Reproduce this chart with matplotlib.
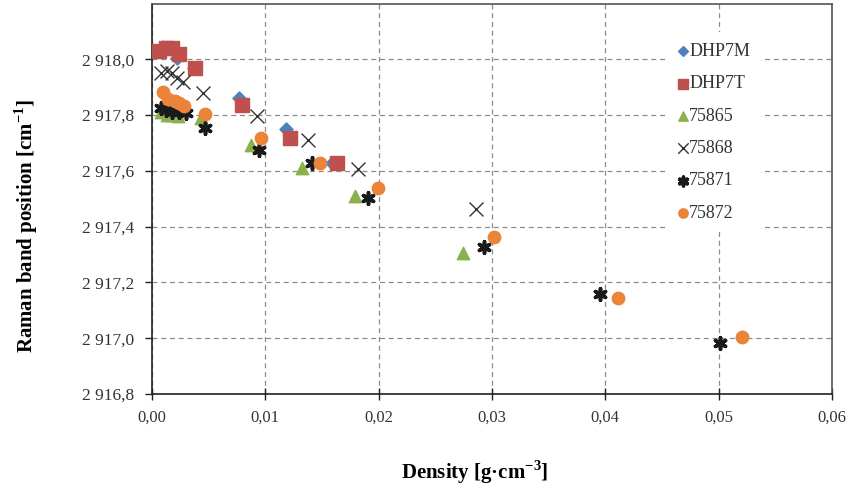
import matplotlib.pyplot as plt
from matplotlib.ticker import FuncFormatter, FixedLocator, MultipleLocator

plt.rcParams['font.family'] = ['Liberation Serif', 'DejaVu Serif']
plt.rcParams['mathtext.fontset'] = 'custom'
plt.rcParams['mathtext.rm'] = 'Liberation Serif'
plt.rcParams['mathtext.bf'] = 'Liberation Serif:bold'

# series: density [g/cm3] and Raman band position [cm-1]
dhp7m_x = [0.0010, 0.0022, 0.0037, 0.0077, 0.0118, 0.0159]
dhp7m_y = [2918.045, 2918.005, 2917.97, 2917.862, 2917.749, 2917.630]

dhp7t_x = [0.0006, 0.0012, 0.0018, 0.0024, 0.0038, 0.0079, 0.0122, 0.0163]
dhp7t_y = [2918.03, 2918.04, 2918.04, 2918.02, 2917.968, 2917.836, 2917.717, 2917.627]

s75865_x = [0.0008, 0.0013, 0.0018, 0.0023, 0.0043, 0.0087, 0.0132, 0.0179, 0.0274]
s75865_y = [2917.81, 2917.80, 2917.80, 2917.795, 2917.79, 2917.693, 2917.609, 2917.510, 2917.307]

s75868_x = [0.0008, 0.0013, 0.0018, 0.0022, 0.0027, 0.0045, 0.0093, 0.0138, 0.0182, 0.0286]
s75868_y = [2917.95, 2917.958, 2917.95, 2917.932, 2917.918, 2917.878, 2917.798, 2917.710, 2917.605, 2917.462]

s75871_x = [0.0008, 0.0012, 0.0018, 0.0024, 0.0030, 0.0047, 0.0094, 0.0141, 0.0191, 0.0293, 0.0395, 0.0501]
s75871_y = [2917.824, 2917.818, 2917.812, 2917.812, 2917.806, 2917.753, 2917.675, 2917.627, 2917.504, 2917.326, 2917.158, 2916.984]

s75872_x = [0.0010, 0.0014, 0.0020, 0.0024, 0.0028, 0.0047, 0.0096, 0.0148, 0.0199, 0.0302, 0.0411, 0.0521]
s75872_y = [2917.884, 2917.857, 2917.852, 2917.842, 2917.833, 2917.804, 2917.717, 2917.627, 2917.537, 2917.364, 2917.145, 2917.003]

y_ticks = [2916.8, 2917.0, 2917.2, 2917.4, 2917.6, 2917.8, 2918.0]

fig = plt.figure(figsize=(8.53, 4.88), dpi=100)
ax = fig.add_axes([0.1782, 0.1926, 0.7972, 0.8002])

ax.scatter(dhp7m_x, dhp7m_y, marker='D', s=45, color='#4F81BD', label='DHP7M', zorder=3)
ax.scatter(dhp7t_x, dhp7t_y, marker='s', s=95, color='#C0504D', label='DHP7T', zorder=3)
ax.scatter(s75865_x, s75865_y, marker='^', s=80, color='#8DB04E', label='75865', zorder=3)
ax.scatter(s75868_x, s75868_y, marker='x', s=100, color='#333333', linewidths=1.0,
           label='75868', zorder=3)
ax.scatter(s75871_x, s75871_y, marker=(6, 2, 0), s=70, color='#1a1a1a', linewidths=2.6,
           label='75871', zorder=3)
ax.scatter(s75872_x, s75872_y, marker='o', s=80, color='#EB8338', label='75872', zorder=3)

ax.set_xlim(0, 0.06)
ax.set_ylim(2916.8, 2918.2)
ax.xaxis.set_major_locator(MultipleLocator(0.01))
ax.yaxis.set_major_locator(FixedLocator(y_ticks))


def fmt_y(v, pos):
    return f'{v:,.1f}'.replace(',', ' ').replace('.', ',')


ax.yaxis.set_major_formatter(FuncFormatter(fmt_y))
ax.xaxis.set_major_formatter(FuncFormatter(lambda v, p: f'{v:.2f}'.replace('.', ',')))

ax.grid(True, color='#8c8c8c', linestyle=(0, (4, 3)), linewidth=0.9)
ax.set_axisbelow(True)

for side in ['top', 'right']:
    ax.spines[side].set_color('#555555')
    ax.spines[side].set_linewidth(1.2)
for side in ['left', 'bottom']:
    ax.spines[side].set_color('#222222')
    ax.spines[side].set_linewidth(1.2)

ax.tick_params(axis='y', direction='out', length=5, width=1, pad=8, labelsize=12.5,
               colors='#222222', labelcolor='#333333')
ax.tick_params(axis='x', direction='inout', length=8, width=1, pad=7, labelsize=12,
               colors='#222222', labelcolor='#333333')

ax.set_ylabel('Raman band position [cm$^{\\mathbf{-1}}$]', fontsize=15, fontweight='bold')
ax.set_xlabel('Density [g\u00b7cm$^{\\mathbf{-3}}$]', fontsize=15, fontweight='bold')
ax.yaxis.set_label_coords(-0.165, 0.43)
ax.xaxis.set_label_coords(0.475, -0.165)

leg = ax.legend(loc='upper left', bbox_to_anchor=(0.745, 0.95), frameon=True,
                facecolor='white', edgecolor='none', framealpha=1, fancybox=False,
                fontsize=13, labelspacing=0.85, handlelength=0.5, handletextpad=0.1,
                borderpad=0.6, scatterpoints=1, markerscale=0.75)
for t in leg.get_texts():
    t.set_color('#333333')

fig.savefig('out.png', dpi=100)
